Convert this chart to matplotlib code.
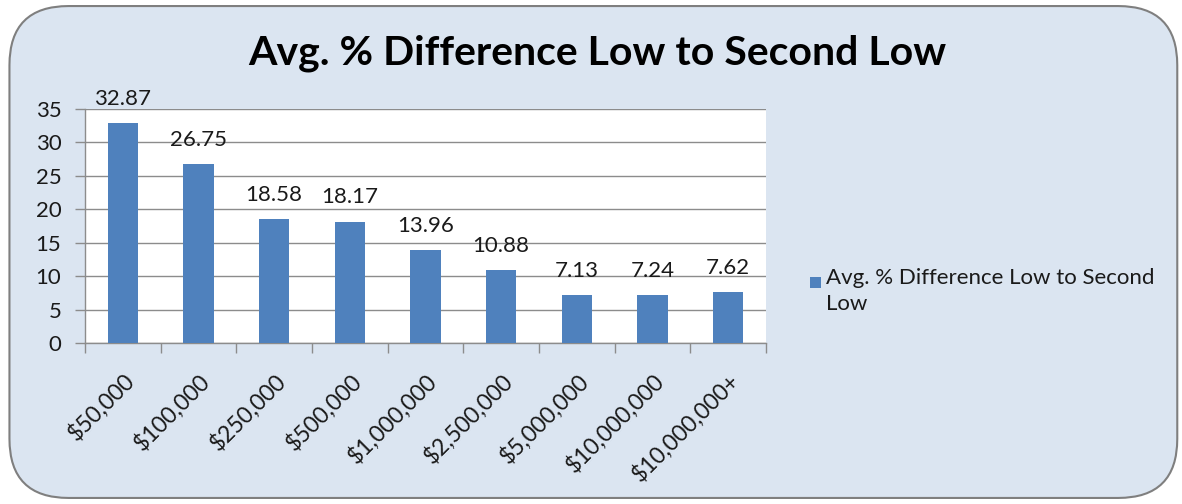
import matplotlib
matplotlib.use('Agg')
import matplotlib.pyplot as plt
from matplotlib.patches import FancyBboxPatch, Rectangle
import numpy as np

categories = ['$50,000', '$100,000', '$250,000', '$500,000', '$1,000,000',
              '$2,500,000', '$5,000,000', '$10,000,000', '$10,000,000+']
values = [32.87, 26.75, 18.58, 18.17, 13.96, 10.88, 7.13, 7.24, 7.62]
yticks = [0, 5, 10, 15, 20, 25, 30, 35]
series_name = 'Avg. % Difference Low to Second Low'

bar_color = '#4f81bd'
bg_color = '#dbe5f1'
grid_color = '#8c8c8c'
text_color = '#1a1a1a'
fs = 16

plt.rcParams['font.family'] = ['Lato', 'DejaVu Sans']

fig = plt.figure(figsize=(11.82, 5.04), dpi=100)
fig.patch.set_facecolor('white')

# rounded chart-area background
frame = FancyBboxPatch((0.008, 0.012), 0.988, 0.976, boxstyle='round,pad=0,rounding_size=0.05',
                       transform=fig.transFigure, facecolor=bg_color, edgecolor='#7f7f7f',
                       linewidth=1.5, mutation_aspect=1182 / 504, zorder=-10)
fig.patches.append(frame)

ax = fig.add_axes([0.0719, 0.3194, 0.5761, 0.4643])
ax.set_facecolor('white')

x = np.arange(len(categories))
ax.bar(x, values, width=0.4, color=bar_color, zorder=3)

for xi, v in zip(x, values):
    ax.text(xi, v + 2.1, f'{v:.2f}', ha='center', va='bottom', fontsize=fs, color=text_color, zorder=4)

ax.set_xlim(-0.5, len(categories) - 0.5)
ax.set_ylim(0, 35)
ax.set_yticks(yticks)
ax.set_yticklabels([str(t) for t in yticks], fontsize=fs, color=text_color)
ax.yaxis.grid(True, color=grid_color, linewidth=1.0, zorder=0)
ax.set_axisbelow(True)

# category boundary ticks
ax.set_xticks(np.arange(len(categories) + 1) - 0.5)
ax.set_xticklabels([])
ax.tick_params(axis='x', length=7, width=1, color=grid_color, direction='out')
ax.tick_params(axis='y', length=7, width=1, color=grid_color, direction='out', pad=10)

for xi, lab in zip(x, categories):
    ax.annotate(lab, xy=(xi, 0), xycoords=('data', 'axes fraction'),
                xytext=(0, -19), textcoords='offset points',
                rotation=45, ha='right', va='top', rotation_mode='anchor',
                fontsize=16.5, color=text_color)

for s in ['top', 'right']:
    ax.spines[s].set_visible(False)
for s in ['left', 'bottom']:
    ax.spines[s].set_color(grid_color)
    ax.spines[s].set_linewidth(1.0)

fig.text(0.505, 0.895, series_name, ha='center', va='center', fontsize=29.5, fontweight='bold', color='black')

# legend
fig.patches.append(Rectangle((810 / 1182, 1 - 288 / 504), 11 / 1182, 11 / 504,
                             transform=fig.transFigure, facecolor=bar_color, edgecolor='none'))
fig.text(826 / 1182, 1 - 268 / 504, 'Avg. % Difference Low to Second\nLow', ha='left', va='top',
         fontsize=fs, color=text_color, linespacing=1.36)

fig.savefig('out.png', dpi=100, facecolor=fig.get_facecolor())
